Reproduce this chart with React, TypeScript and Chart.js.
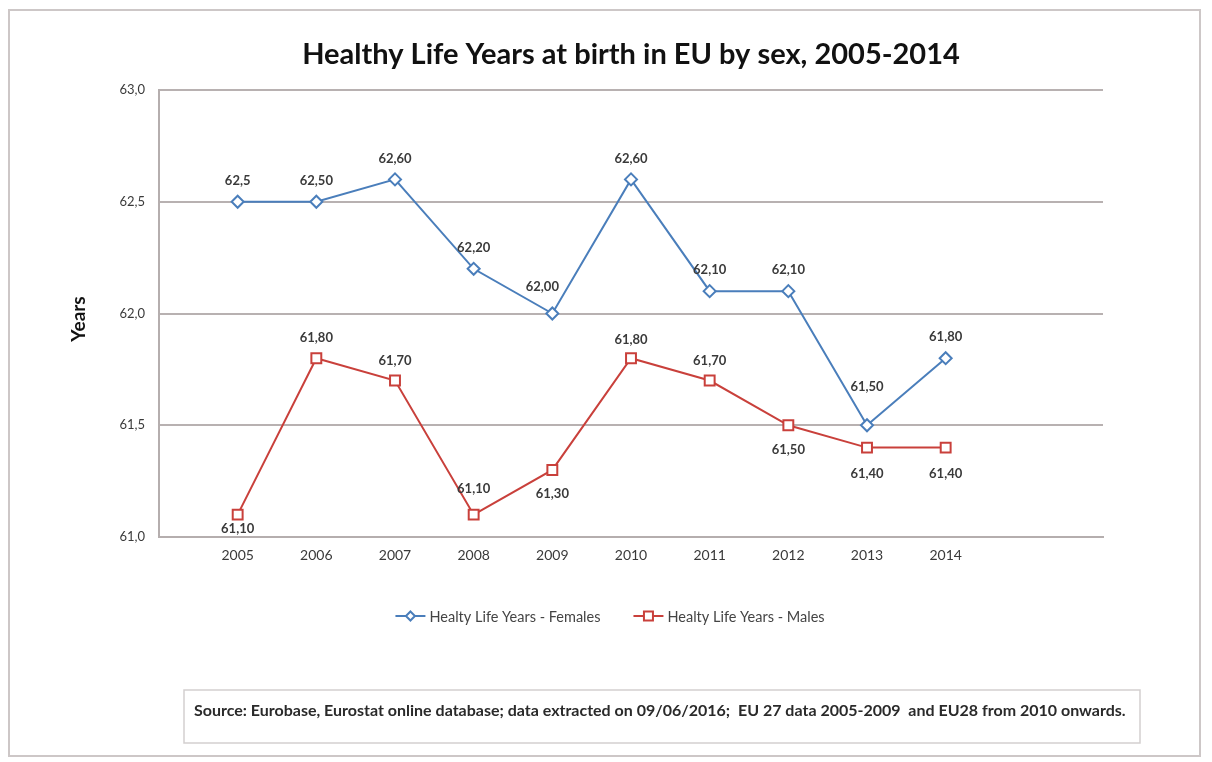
import React, { useEffect, useRef } from "react";
import { Chart, registerables } from "chart.js";

Chart.register(...registerables);

// ---- data ----
const TITLE = "Healthy Life Years at birth in EU by sex, 2005-2014";
const Y_TITLE = "Years";
const SOURCE =
  "Source: Eurobase, Eurostat online database; data extracted on 09/06/2016;  EU 27 data 2005-2009  and EU28 from 2010 onwards.";
const years = ["2005", "2006", "2007", "2008", "2009", "2010", "2011", "2012", "2013", "2014"];
const females = [62.5, 62.5, 62.6, 62.2, 62.0, 62.6, 62.1, 62.1, 61.5, 61.8];
const males = [61.1, 61.8, 61.7, 61.1, 61.3, 61.8, 61.7, 61.5, 61.4, 61.4];
const femaleLabels = ["62,5", "62,50", "62,60", "62,20", "62,00", "62,60", "62,10", "62,10", "61,50", "61,80"];
const maleLabels = ["61,10", "61,80", "61,70", "61,10", "61,30", "61,80", "61,70", "61,50", "61,40", "61,40"];
const yTicks = [61.0, 61.5, 62.0, 62.5, 63.0];
const seriesNames = ["Healty Life Years - Females", "Healty Life Years - Males"];

// label placement (style)
const femaleDy = [-21, -21, -21, -21, -27, -21, -21, -21, -38, -21];
const femaleDx = [0, 0, 0, 0, -10, 0, 0, 0, 0, 0];
const maleDy = [24, -20, -20, -26, 24, -18, -20, 25, 26, 26];

const BLUE = "#4a7ebb";
const RED = "#c9403b";
const FONT = "Lato, 'Open Sans', sans-serif";

// empty slot before first year and two after last year
const xLabels = ["", ...years, "", ""];
const pad = (arr: number[]) => [null, ...arr, null, null];

function drawMarker(ctx: CanvasRenderingContext2D, kind: string, x: number, y: number, r: number, color: string) {
  ctx.save();
  ctx.beginPath();
  if (kind === "diamond") {
    ctx.moveTo(x, y - r);
    ctx.lineTo(x + r, y);
    ctx.lineTo(x, y + r);
    ctx.lineTo(x - r, y);
    ctx.closePath();
  } else {
    ctx.rect(x - r, y - r, 2 * r, 2 * r);
  }
  ctx.fillStyle = "#fff";
  ctx.fill();
  ctx.lineWidth = 2;
  ctx.strokeStyle = color;
  ctx.stroke();
  ctx.restore();
}

const extras = {
  id: "extras",
  beforeDraw(chart: any) {
    const { ctx, width, height } = chart;
    ctx.save();
    ctx.fillStyle = "#ffffff";
    ctx.fillRect(0, 0, width, height);
    ctx.restore();
  },
  afterDraw(chart: any) {
    const ctx: CanvasRenderingContext2D = chart.ctx;
    const area = chart.chartArea;
    ctx.save();

    // outer border
    ctx.strokeStyle = "#cdc7c7";
    ctx.lineWidth = 2;
    ctx.strokeRect(9, 10, 1191, 746);

    // title
    ctx.fillStyle = "#111";
    ctx.font = `bold 29px ${FONT}`;
    ctx.textAlign = "center";
    ctx.textBaseline = "middle";
    ctx.fillText(TITLE, (area.left + area.right) / 2, 55);

    // y title
    ctx.save();
    ctx.translate(79, 319);
    ctx.rotate(-Math.PI / 2);
    ctx.font = `bold 19px ${FONT}`;
    ctx.fillStyle = "#111";
    ctx.fillText(Y_TITLE, 0, 0);
    ctx.restore();

    // data labels
    ctx.font = `bold 13px ${FONT}`;
    ctx.fillStyle = "#3a3a3a";
    const sets = [
      { labels: femaleLabels, dy: femaleDy, dx: femaleDx },
      { labels: maleLabels, dy: maleDy, dx: null as number[] | null },
    ];
    sets.forEach((s, di) => {
      const meta = chart.getDatasetMeta(di);
      s.labels.forEach((txt, j) => {
        const pt = meta.data[j + 1];
        if (!pt) return;
        let y = pt.y + s.dy[j];
        if (y > area.bottom - 8) y = area.bottom - 8;
        const x = pt.x + (s.dx ? s.dx[j] : 0);
        ctx.fillText(txt, x, y);
      });
    });

    // legend
    ctx.font = `14.5px ${FONT}`;
    ctx.textAlign = "left";
    const colors = [BLUE, RED];
    const kinds = ["diamond", "square"];
    const lineW = 30;
    const gap = 33;
    const widths = seriesNames.map((n) => lineW + 4 + ctx.measureText(n).width);
    const total = widths.reduce((a, b) => a + b, 0) + gap;
    let lx = 610 - total / 2;
    const ly = 616;
    seriesNames.forEach((n, i) => {
      ctx.strokeStyle = colors[i];
      ctx.lineWidth = 2;
      ctx.beginPath();
      ctx.moveTo(lx, ly);
      ctx.lineTo(lx + lineW, ly);
      ctx.stroke();
      drawMarker(ctx, kinds[i], lx + lineW / 2, ly, 4.5, colors[i]);
      ctx.fillStyle = "#444";
      ctx.fillText(n, lx + lineW + 4, ly + 1);
      lx += widths[i] + gap;
    });

    // source box
    ctx.strokeStyle = "#d3cfcf";
    ctx.lineWidth = 1.5;
    ctx.strokeRect(184, 690, 956, 53);
    ctx.fillStyle = "#2a2a2a";
    ctx.font = `bold 16px ${FONT}`;
    ctx.textAlign = "left";
    ctx.fillText(SOURCE, 194, 711);

    ctx.restore();
  },
};

export default function App() {
  const ref = useRef<HTMLCanvasElement | null>(null);

  useEffect(() => {
    if (!ref.current) return;
    const chart = new Chart(ref.current, {
      type: "line",
      data: {
        labels: xLabels,
        datasets: [
          {
            label: seriesNames[0],
            data: pad(females),
            borderColor: BLUE,
            borderWidth: 2,
            pointStyle: "rectRot",
            pointRadius: 6,
            pointBorderWidth: 2,
            pointBackgroundColor: "#fff",
            pointBorderColor: BLUE,
            tension: 0,
          },
          {
            label: seriesNames[1],
            data: pad(males),
            borderColor: RED,
            borderWidth: 2,
            pointStyle: "rect",
            pointRadius: 7,
            pointBorderWidth: 2,
            pointBackgroundColor: "#fff",
            pointBorderColor: RED,
            tension: 0,
          },
        ],
      },
      options: {
        responsive: false,
        animation: false,
        devicePixelRatio: 1,
        layout: { padding: { top: 90, right: 109, left: 0, bottom: 0 } },
        plugins: {
          legend: { display: false },
          title: { display: false },
          tooltip: { enabled: false },
        },
        scales: {
          x: {
            type: "category",
            offset: false,
            grid: { display: false, drawTicks: false },
            border: { display: true, color: "#b5aeae", width: 2 },
            ticks: {
              autoSkip: false,
              maxRotation: 0,
              padding: 10,
              color: "#3a3a3a",
              font: { family: FONT, size: 14 },
            },
            afterFit: (s: any) => {
              s.height = 225;
            },
          },
          y: {
            min: 61,
            max: 63,
            afterBuildTicks: (s: any) => {
              s.ticks = yTicks.map((v) => ({ value: v }));
            },
            grid: { color: "#b8b1b1", lineWidth: 2, drawTicks: false },
            border: { display: true, color: "#b5aeae", width: 2 },
            ticks: {
              padding: 14,
              color: "#3a3a3a",
              font: { family: FONT, size: 13 },
              callback: (v: any) => Number(v).toFixed(1).replace(".", ","),
            },
            afterFit: (s: any) => {
              s.width = 159;
            },
          },
        },
      },
      plugins: [extras],
    });
    return () => chart.destroy();
  }, []);

  return (
    <div style={{ position: "fixed", left: 0, top: 0, width: 1212, height: 762, background: "#fff" }}>
      <canvas ref={ref} width={1212} height={762} style={{ display: "block" }} />
    </div>
  );
}
